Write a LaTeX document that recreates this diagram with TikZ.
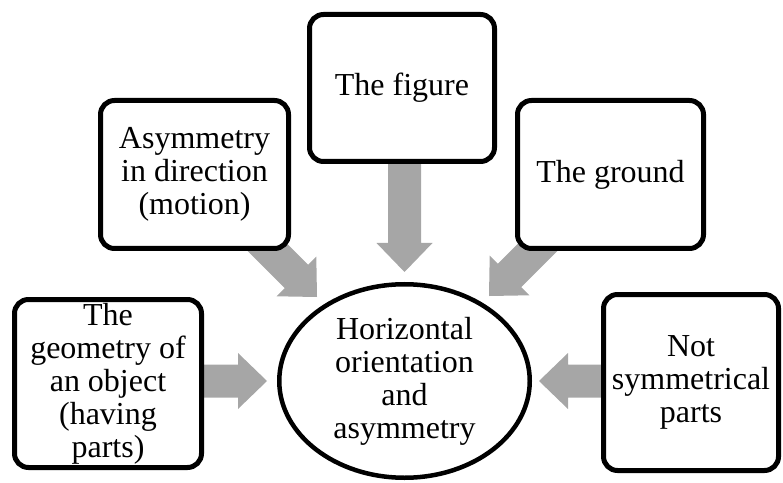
\documentclass[tikz,border=0pt]{standalone}
\usepackage{fontspec}
\setmainfont{Liberation Serif}
\usetikzlibrary{shapes.geometric,calc,backgrounds}
\definecolor{arrowgray}{RGB}{166,166,166}
\tikzset{
  box/.style={draw=black, line width=5pt, fill=white, rounded corners=14pt,
    inner sep=0pt, align=center, font=\fontsize{32}{33}\selectfont},
  oval/.style={ellipse, draw=black, line width=4.5pt, fill=white,
    inner sep=0pt, align=center, font=\fontsize{32}{33}\selectfont,
    minimum width=250.5, minimum height=193.5},
  blockfill/.style={fill=arrowgray}
}
\newcommand\blockarrow[2]{%
  \fill[blockfill] let \p1=($(#2)-(#1)$), \n1={atan2(\y1,\x1)}, \n2={veclen(\x1,\y1)} in
    [shift={(#1)}, rotate=\n1]
    (0,-16.5) -- (\n2-29,-16.5) -- (\n2-29,-28) -- (\n2,0) -- (\n2-29,28) -- (\n2-29,16.5) -- (0,16.5) -- cycle;
}
\begin{document}
\begin{tikzpicture}[x=1pt,y=1pt]
\useasboundingbox (0,0) rectangle (783,482);
% nodes
\node[box, minimum width=185, minimum height=147] (fig) at (402,394) {The figure};
\node[box, minimum width=188, minimum height=148] (asym) at (194.5,307.5) {Asymmetry\\in direction\\(motion)};
\node[box, minimum width=186, minimum height=148] (ground) at (610.5,307.5) {The ground};
\node[box, minimum width=187, minimum height=168] (geom) at (108,98.5) {The\\geometry of\\an object\\(having\\parts)};
\node[box, minimum width=175, minimum height=176] (notsym) at (691,99.5) {Not\\symmetrical\\parts};
\node[oval] (ell) at (404.5,101) {Horizontal\\orientation\\and\\asymmetry};
% arrow end points
\coordinate (tT) at ($(ell.north)+(0,10)$);
\coordinate (tL) at ($(ell.west)+(-10,0)$);
\coordinate (tR) at ($(ell.east)+(7,0)$);
\coordinate (tA) at ($(ell.center)+(-87.5,84)$);
\coordinate (tG) at ($(ell.center)+(84.5,85)$);
\begin{pgfonlayer}{background}
  \blockarrow{fig.south -| tT}{tT}
  \blockarrow{asym.center}{tA}
  \blockarrow{ground.center}{tG}
  \blockarrow{geom.east |- tL}{tL}
  \blockarrow{notsym.west |- tR}{tR}
\end{pgfonlayer}
\end{tikzpicture}
\end{document}
